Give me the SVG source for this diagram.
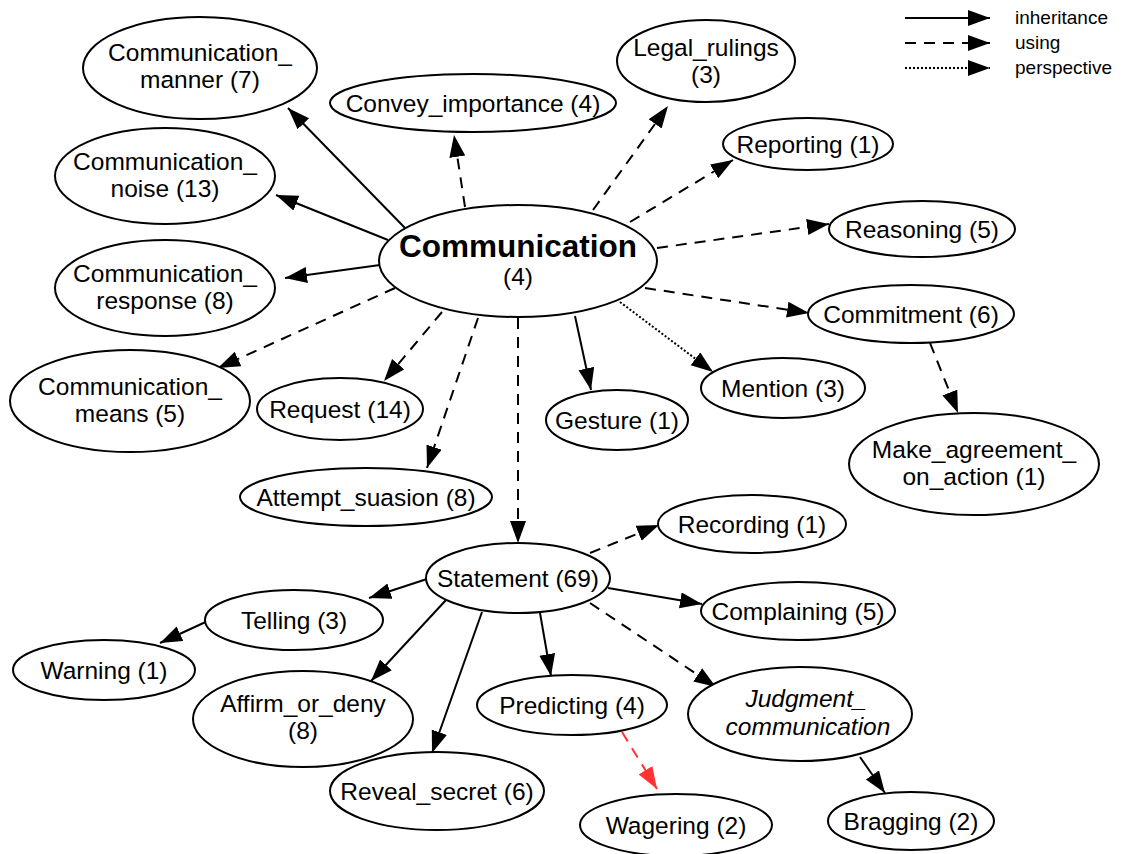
<svg xmlns="http://www.w3.org/2000/svg" width="1122" height="854" viewBox="0 0 1122 854">
<style>
.n ellipse{fill:#fff;stroke:#000;stroke-width:2}
text{font-family:"Liberation Sans",Arial,sans-serif;font-size:24.5px;fill:#000;text-anchor:middle}
.lg{font-size:19px;text-anchor:start}
.e line{stroke:#000;stroke-width:2;fill:none}
.e .u{stroke-dasharray:11 8}
.e .p{stroke-dasharray:2 2}
.e .r{stroke:#f33;stroke-dasharray:11 8}
</style>
<defs>
<marker id="a" markerUnits="userSpaceOnUse" markerWidth="24" markerHeight="18" refX="22" refY="8" orient="auto"><path d="M0,0 L22,8 L0,16 z" fill="#000"/></marker>
<marker id="ar" markerUnits="userSpaceOnUse" markerWidth="24" markerHeight="18" refX="22" refY="8" orient="auto"><path d="M0,0 L22,8 L0,16 z" fill="#f33"/></marker>
</defs>
<g id="legend">
<g class="e">
<line x1="905" y1="18" x2="990" y2="18" marker-end="url(#a)"/>
<line class="u" x1="905" y1="43" x2="990" y2="43" marker-end="url(#a)"/>
<line class="p" x1="905" y1="68" x2="990" y2="68" marker-end="url(#a)"/>
</g>
<text class="lg" x="1015" y="24">inheritance</text>
<text class="lg" x="1015" y="49">using</text>
<text class="lg" x="1015" y="74">perspective</text>
</g>
<g id="edges" class="e">
<line x1="405" y1="228" x2="288" y2="108" marker-end="url(#a)"/>
<line class="u" x1="465" y1="207" x2="454" y2="135" marker-end="url(#a)"/>
<line class="u" x1="593" y1="210" x2="668" y2="106" marker-end="url(#a)"/>
<line class="u" x1="630" y1="222" x2="733" y2="160" marker-end="url(#a)"/>
<line x1="388" y1="240" x2="276" y2="195" marker-end="url(#a)"/>
<line class="u" x1="657" y1="248" x2="829" y2="224" marker-end="url(#a)"/>
<line x1="380" y1="265" x2="285" y2="278" marker-end="url(#a)"/>
<line class="u" x1="645" y1="288" x2="809" y2="313" marker-end="url(#a)"/>
<line class="u" x1="395" y1="288" x2="218" y2="368" marker-end="url(#a)"/>
<line class="u" x1="442" y1="312" x2="384" y2="381" marker-end="url(#a)"/>
<line class="u" x1="478" y1="318" x2="427" y2="468" marker-end="url(#a)"/>
<line class="u" x1="518" y1="318" x2="518" y2="543" marker-end="url(#a)"/>
<line x1="575" y1="316" x2="591" y2="390" marker-end="url(#a)"/>
<line class="p" x1="620" y1="302" x2="713" y2="372" marker-end="url(#a)"/>
<line class="u" x1="930" y1="343" x2="958" y2="413" marker-end="url(#a)"/>
<line class="u" x1="590" y1="553" x2="659" y2="525" marker-end="url(#a)"/>
<line x1="430" y1="578" x2="369" y2="598" marker-end="url(#a)"/>
<line x1="608" y1="588" x2="702" y2="604" marker-end="url(#a)"/>
<line x1="210" y1="620" x2="160" y2="643" marker-end="url(#a)"/>
<line x1="446" y1="600" x2="371" y2="681" marker-end="url(#a)"/>
<line x1="482" y1="612" x2="432" y2="753" marker-end="url(#a)"/>
<line x1="540" y1="613" x2="551" y2="676" marker-end="url(#a)"/>
<line class="u" x1="590" y1="603" x2="716" y2="687" marker-end="url(#a)"/>
<line class="r" x1="622" y1="732" x2="657" y2="789" marker-end="url(#ar)"/>
<line x1="860" y1="757" x2="885" y2="793" marker-end="url(#a)"/>
</g>
<g id="communication" class="n"><ellipse cx="518" cy="261" rx="139" ry="56"/><text x="518" y="257" style="font-size:31.5px;font-weight:bold">Communication</text><text x="518" y="285">(4)</text></g>
<g id="communication_manner" class="n"><ellipse cx="200" cy="68" rx="117" ry="51"/><text x="200" y="61">Communication_</text><text x="200" y="88">manner (7)</text></g>
<g id="convey_importance" class="n"><ellipse cx="473" cy="103" rx="143" ry="29"/><text x="473" y="112">Convey_importance (4)</text></g>
<g id="legal_rulings" class="n"><ellipse cx="706" cy="61" rx="89" ry="41"/><text x="706" y="56">Legal_rulings</text><text x="706" y="83">(3)</text></g>
<g id="reporting" class="n"><ellipse cx="808" cy="144" rx="85" ry="26"/><text x="808" y="153">Reporting (1)</text></g>
<g id="communication_noise" class="n"><ellipse cx="165" cy="176" rx="110" ry="48"/><text x="165" y="170">Communication_</text><text x="165" y="197">noise (13)</text></g>
<g id="reasoning" class="n"><ellipse cx="922" cy="229" rx="93" ry="28"/><text x="922" y="238">Reasoning (5)</text></g>
<g id="communication_response" class="n"><ellipse cx="165" cy="288" rx="110" ry="48"/><text x="165" y="282">Communication_</text><text x="165" y="309">response (8)</text></g>
<g id="commitment" class="n"><ellipse cx="911" cy="314" rx="103" ry="29"/><text x="911" y="323">Commitment (6)</text></g>
<g id="communication_means" class="n"><ellipse cx="130" cy="401" rx="120" ry="51"/><text x="130" y="395">Communication_</text><text x="130" y="422">means (5)</text></g>
<g id="request" class="n"><ellipse cx="340" cy="409" rx="83" ry="31"/><text x="340" y="418">Request (14)</text></g>
<g id="gesture" class="n"><ellipse cx="617" cy="420" rx="71" ry="30"/><text x="617" y="429">Gesture (1)</text></g>
<g id="mention" class="n"><ellipse cx="783" cy="388" rx="82" ry="30"/><text x="783" y="397">Mention (3)</text></g>
<g id="make_agreement_on_action" class="n"><ellipse cx="974" cy="464" rx="125" ry="51"/><text x="974" y="458">Make_agreement_</text><text x="974" y="485">on_action (1)</text></g>
<g id="attempt_suasion" class="n"><ellipse cx="366" cy="497" rx="126" ry="29"/><text x="366" y="506">Attempt_suasion (8)</text></g>
<g id="recording" class="n"><ellipse cx="752" cy="524" rx="94" ry="29"/><text x="752" y="533">Recording (1)</text></g>
<g id="statement" class="n"><ellipse cx="518" cy="578" rx="92" ry="35"/><text x="518" y="587">Statement (69)</text></g>
<g id="telling" class="n"><ellipse cx="294" cy="620" rx="89" ry="30"/><text x="294" y="629">Telling (3)</text></g>
<g id="complaining" class="n"><ellipse cx="798" cy="611" rx="97" ry="29"/><text x="798" y="620">Complaining (5)</text></g>
<g id="warning" class="n"><ellipse cx="104" cy="670" rx="91" ry="30"/><text x="104" y="679">Warning (1)</text></g>
<g id="affirm_or_deny" class="n"><ellipse cx="303" cy="719" rx="110" ry="48"/><text x="303" y="712">Affirm_or_deny</text><text x="303" y="739">(8)</text></g>
<g id="predicting" class="n"><ellipse cx="572" cy="705" rx="95" ry="30"/><text x="572" y="714">Predicting (4)</text></g>
<g id="judgment_communication" class="n"><ellipse cx="800" cy="714" rx="112" ry="47"/><text x="806" y="707" style="font-style:italic">Judgment_</text><text x="808" y="735" style="font-style:italic">communication</text></g>
<g id="reveal_secret" class="n"><ellipse cx="437" cy="791" rx="107" ry="39"/><text x="437" y="800">Reveal_secret (6)</text></g>
<g id="wagering" class="n"><ellipse cx="676" cy="825" rx="96" ry="31"/><text x="676" y="834">Wagering (2)</text></g>
<g id="bragging" class="n"><ellipse cx="911" cy="821" rx="83" ry="29"/><text x="911" y="830">Bragging (2)</text></g>
</svg>
